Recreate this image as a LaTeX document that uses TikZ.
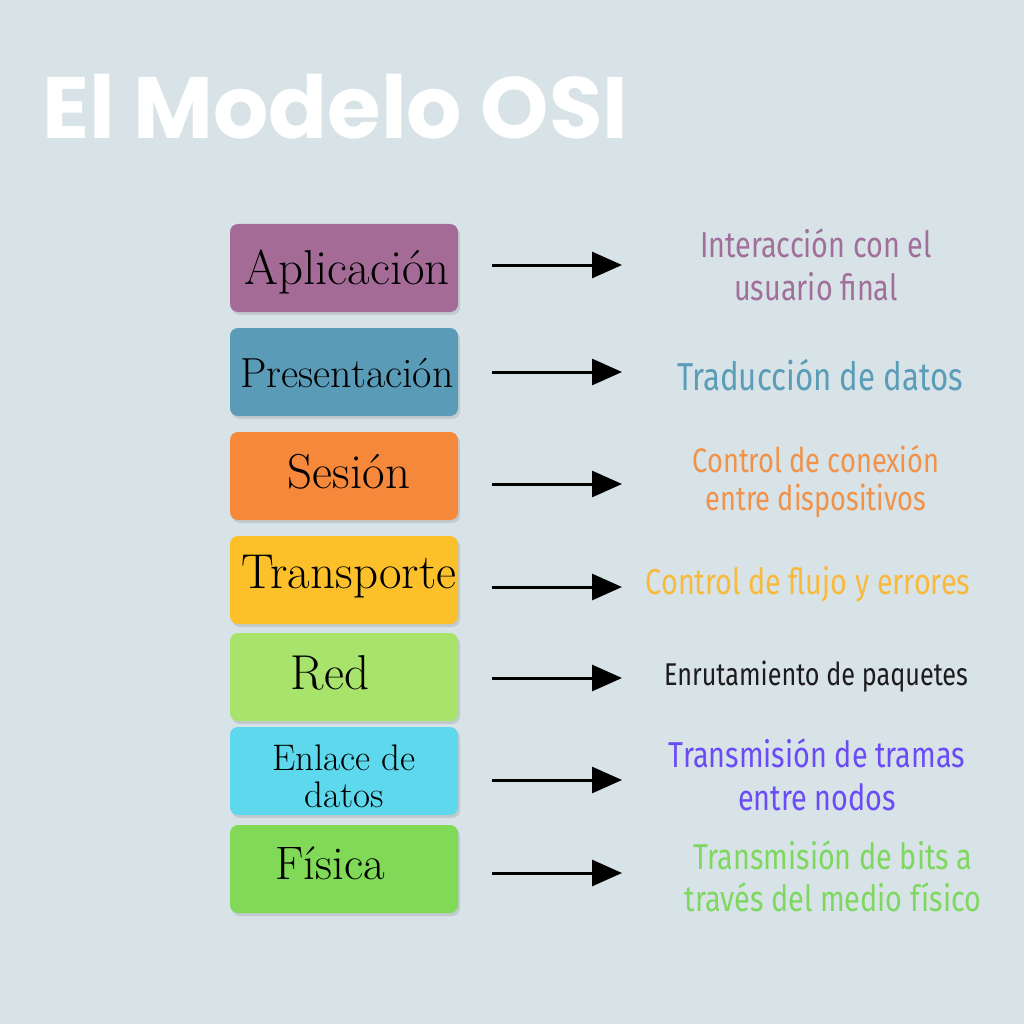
\documentclass[tikz,border=0pt]{standalone}
\usepackage{fontspec}
\usetikzlibrary{positioning, arrows.meta, shadows}
\newfontfamily\titleFont{Poppins}
\newfontfamily\descFont[FakeStretch=0.8]{Fira Sans}
\definecolor{bgColor}{RGB}{216,227,232}
\definecolor{appColor}{RGB}{164,107,150}
\definecolor{preColor}{RGB}{90,155,184}
\definecolor{sesColor}{RGB}{245,136,58}
\definecolor{traColor}{RGB}{252,192,42}
\definecolor{redColor}{RGB}{168,227,108}
\definecolor{enlColor}{RGB}{94,216,236}
\definecolor{fisColor}{RGB}{128,217,87}
\definecolor{appText}{RGB}{160,112,154}
\definecolor{preText}{RGB}{91,157,184}
\definecolor{sesText}{RGB}{240,146,74}
\definecolor{traText}{RGB}{249,185,58}
\definecolor{redText}{RGB}{28,28,28}
\definecolor{enlText}{RGB}{107,75,245}
\definecolor{fisText}{RGB}{126,216,96}
\tikzstyle{osiPicture} = [x=1pt, y=-1pt]
\tikzstyle{layerBox} = [rounded corners=8pt, minimum width=228pt, minimum height=88pt, inner sep=0pt, drop shadow={opacity=.25, shadow xshift=2pt, shadow yshift=-3pt}]
\tikzstyle{layerLabel} = [anchor=base, inner sep=0pt, font=\fontsize{49}{52}\selectfont]
\tikzstyle{layerDesc} = [align=center, inner sep=0pt, font={\descFont\fontsize{36}{43}\selectfont}]
\tikzstyle{layerArrow} = [line width=3pt, -{Triangle[length=30pt, width=26pt]}]
\newcommand{\layerBoxAt}[3]{\node [layerBox, fill=#3] (#1) at (344,#2) {};}
\newcommand{\layerArrowAt}[2]{
  \coordinate (#1Start) at (492,#2);
  \coordinate (#1End) at (622,#2);
  \draw [layerArrow] (#1Start) -- (#1End);
}

\begin{document}
\begin{tikzpicture}[osiPicture]
  \fill [bgColor] (0,0) rectangle (1024,1024);
  \useasboundingbox (0,0) rectangle (1024,1024);

  \node [anchor=base west, inner sep=0pt, text=white, font={\titleFont\bfseries\fontsize{87}{96}\selectfont}] (title) at (42,139) {El Modelo OSI};

  % capas
  \layerBoxAt{app}{268}{appColor}
  \layerBoxAt{pre}{372}{preColor}
  \layerBoxAt{ses}{476}{sesColor}
  \layerBoxAt{tra}{580}{traColor}
  \layerBoxAt{red}{677}{redColor}
  \layerBoxAt{enl}{771}{enlColor}
  \layerBoxAt{fis}{869}{fisColor}

  \node [layerLabel] (appLabel) at (347,284) {Aplicación};
  \node [layerLabel, font=\fontsize{42}{46}\selectfont] (preLabel) at (347,387) {Presentación};
  \node [layerLabel] (sesLabel) at (349,488) {Sesión};
  \node [layerLabel] (traLabel) at (349,588) {Transporte};
  \node [layerLabel] (redLabel) at (330,689) {Red};
  \node [align=center, inner sep=0pt, font=\fontsize{37}{37}\selectfont] (enlLabel) at (344,776) {Enlace de\\datos};
  \node [layerLabel, font=\fontsize{47}{50}\selectfont] (fisLabel) at (330,879) {Física};

  % flechas
  \layerArrowAt{app}{265}
  \layerArrowAt{pre}{372}
  \layerArrowAt{ses}{484}
  \layerArrowAt{tra}{587}
  \layerArrowAt{red}{678}
  \layerArrowAt{enl}{780}
  \layerArrowAt{fis}{873}

  % funciones
  \node [layerDesc, text=appText] (appDesc) at (816,265) {Interacción con el\\usuario final};
  \node [layerDesc, text=preText, font={\descFont\fontsize{39}{44}\selectfont}] (preDesc) at (820,375) {Traducción de datos};
  \node [layerDesc, text=sesText, font={\descFont\fontsize{34}{38}\selectfont}] (sesDesc) at (816,481) {Control de conexión\\entre dispositivos};
  \node [layerDesc, text=traText] (traDesc) at (808,584) {Control de flujo y errores};
  \node [layerDesc, text=redText, font={\descFont\fontsize{31.5}{36}\selectfont}] (redDesc) at (816,677) {Enrutamiento de paquetes};
  \node [layerDesc, text=enlText] (enlDesc) at (817,775) {Transmisión de tramas\\entre nodos};
  \node [layerDesc, text=fisText, font={\descFont\fontsize{36}{42}\selectfont}] (fisDesc) at (833,876) {Transmisión de bits a\\través del medio físico};
\end{tikzpicture}
\end{document}
